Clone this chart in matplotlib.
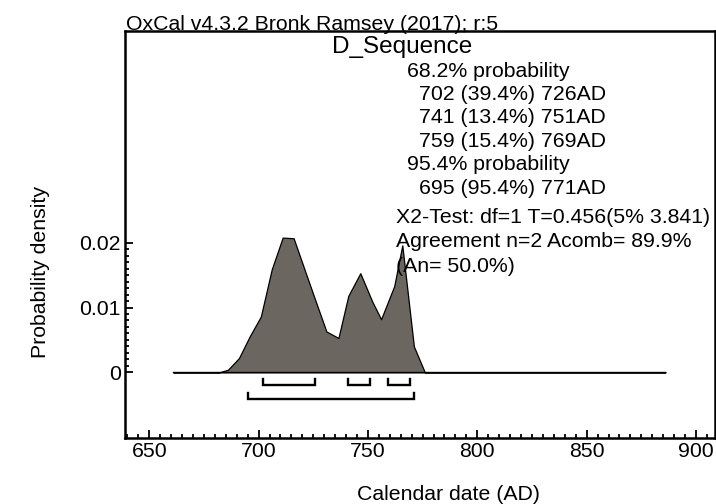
import matplotlib
matplotlib.use("Agg")
import matplotlib.pyplot as plt
from matplotlib.ticker import MultipleLocator, FixedLocator

plt.rcParams['font.family'] = ['Liberation Sans', 'DejaVu Sans']

# posterior density for the sequence
years = [661, 682, 686, 691, 696, 701, 706, 711, 716, 722, 727, 731, 736.5,
         741, 746.5, 752, 756, 762, 765.7, 771, 776, 886]
density = [0, 0, 0.0004, 0.0022, 0.0056, 0.0086, 0.0159, 0.0208, 0.0207,
           0.0149, 0.0101, 0.0063, 0.0053, 0.0118, 0.0153, 0.0109, 0.0082,
           0.0133, 0.0196, 0.0040, 0, 0]

# highest posterior density ranges
range_68 = [(702, 726), (741, 751), (759, 769)]
range_95 = [(695, 771)]

summary = [
    "68.2% probability",
    "702 (39.4%) 726AD",
    "741 (13.4%) 751AD",
    "759 (15.4%) 769AD",
    "95.4% probability",
    "695 (95.4%) 771AD",
]
stats = [
    "X2-Test: df=1 T=0.456(5% 3.841)",
    "Agreement n=2 Acomb= 89.9%",
    "(An= 50.0%)",
]

fs = 15.3

fig = plt.figure(figsize=(7.16, 5.04), dpi=100)
ax = fig.add_axes([0.1746, 0.1315, 0.824, 0.807])

ax.fill_between(years, density, 0, color='#6c6661', edgecolor='black',
                linewidth=0.9, zorder=2)
ax.plot([years[0], years[-1]], [0, 0], color='black', linewidth=1.0, zorder=3)


def bracket(lo, hi, y, h=0.0009):
    ax.plot([lo, lo, hi, hi], [y + h, y, y, y + h], color='black',
            linewidth=1.7, solid_joinstyle='miter', zorder=3)


for lo, hi in range_68:
    bracket(lo, hi, -0.0019)
for lo, hi in range_95:
    bracket(lo, hi, -0.0041)

ax.set_xlim(638.9, 908.7)
ax.set_ylim(-0.0101, 0.0527)

ax.xaxis.set_major_locator(MultipleLocator(50))
ax.xaxis.set_minor_locator(MultipleLocator(5))
ax.yaxis.set_major_locator(FixedLocator([0, 0.01, 0.02]))
ax.yaxis.set_minor_locator(FixedLocator([i * 0.001 for i in range(21)]))
ax.set_yticklabels(['0', '0.01', '0.02'])

ax.tick_params(which='both', direction='in', top=False, right=False,
               labelsize=fs, width=1.3)
ax.tick_params(which='major', length=6)
ax.tick_params(which='minor', length=3)
ax.tick_params(axis='x', pad=3)
ax.tick_params(axis='y', pad=3)

for s in ax.spines.values():
    s.set_linewidth(1.8)

fig.text(0.627, 0.019, 'Calendar date (AD)', fontsize=fs, ha='center',
         va='center')
fig.text(0.056, 0.46, 'Probability density', rotation=90, fontsize=fs,
         ha='center', va='center')

fig.text(0.176, 0.941, 'OxCal v4.3.2 Bronk Ramsey (2017); r:5', fontsize=fs,
         ha='left', va='baseline', zorder=0)
fig.text(0.562, 0.907, 'D_Sequence', fontsize=17.5, ha='center', va='center')

for i, line in enumerate(summary):
    x = 0.568 if 'probability' in line else 0.585
    fig.text(x, 0.859 - i * 0.0465, line, fontsize=fs, ha='left', va='center')
for i, line in enumerate(stats):
    fig.text(0.553, 0.569 - i * 0.0485, line, fontsize=fs, ha='left',
             va='center')

fig.savefig('out.png', dpi=100)
